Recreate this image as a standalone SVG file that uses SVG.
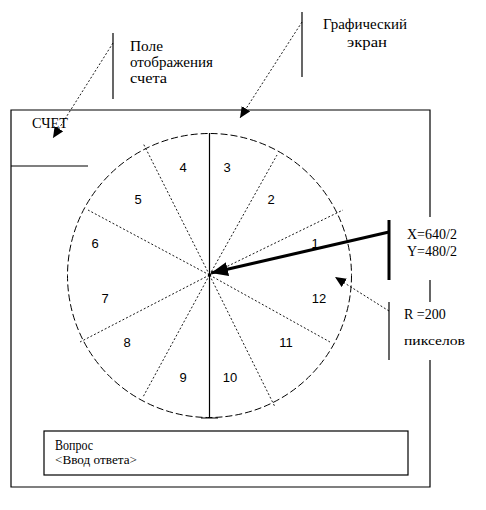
<svg xmlns="http://www.w3.org/2000/svg" width="486" height="510" viewBox="0 0 486 510">
<style>
.ser{font-family:"Liberation Serif","DejaVu Serif","Times New Roman",serif;fill:#000}
.num{font-family:"Liberation Sans",Arial,sans-serif;font-size:13px;fill:#000;text-anchor:middle}
.solid{stroke:#000;stroke-width:1.2;fill:none}
.dot{stroke:#000;stroke-width:0.9;stroke-dasharray:2,2;fill:none}
.circ{stroke:#000;stroke-width:1;stroke-dasharray:7,3;fill:none}
</style>
<defs>
<marker id="ah" markerUnits="userSpaceOnUse" markerWidth="12" markerHeight="10" refX="11" refY="5" orient="auto">
<path d="M0,0 L11,5 L0,10 Z" fill="#000"/>
</marker>
<marker id="ahb" markerUnits="userSpaceOnUse" markerWidth="18" markerHeight="14" refX="17" refY="7" orient="auto">
<path d="M0,0 L17,7 L0,14 Z" fill="#000"/>
</marker>
</defs>
<rect width="486" height="510" fill="#fff"/>

<g id="screen">
<path class="solid" d="M430 217 V110 H11 V487 H430 V360 M430 280 V302"/>
<path class="solid" d="M11 166 H88"/>
</g>

<g id="score">
<text class="ser" x="32" y="128" font-size="14" textLength="36" lengthAdjust="spacingAndGlyphs">СЧЕТ</text>
</g>

<g id="wheel">
<circle class="circ" cx="209.5" cy="275.5" r="142"/>
<path class="solid" d="M209.5 133 V418 M201 418 H218"/>
<path class="dot" d="M209.5 275 L277 155 M209.5 275 L343 210 M209.5 275 L330 342 M209.5 275 L275 407 M209.5 275 L143 143 M209.5 275 L88 210 M209.5 275 L80 342 M209.5 275 L143 397"/>
<circle cx="209.5" cy="275" r="1.5" fill="#000"/>
<text class="num" x="183" y="172">4</text>
<text class="num" x="227" y="172">3</text>
<text class="num" x="138" y="204">5</text>
<text class="num" x="271" y="204">2</text>
<text class="num" x="95" y="248">6</text>
<text class="num" x="315" y="248">1</text>
<text class="num" x="105" y="303">7</text>
<text class="num" x="319" y="303">12</text>
<text class="num" x="127" y="347">8</text>
<text class="num" x="286" y="347">11</text>
<text class="num" x="183" y="382">9</text>
<text class="num" x="230" y="382">10</text>
</g>

<g id="question">
<rect class="solid" x="44" y="431" width="364" height="44"/>
<text class="ser" x="55" y="450" font-size="14" textLength="38" lengthAdjust="spacingAndGlyphs">Вопрос</text>
<text class="ser" x="55" y="464" font-size="12" textLength="82" lengthAdjust="spacingAndGlyphs">&lt;Ввод ответа&gt;</text>
</g>

<g id="label-score">
<path class="solid" d="M113 33 V99"/>
<text class="ser" x="130" y="51" font-size="14" textLength="33" lengthAdjust="spacingAndGlyphs">Поле</text>
<text class="ser" x="130" y="67" font-size="14" textLength="83" lengthAdjust="spacingAndGlyphs">отображения</text>
<text class="ser" x="130" y="83" font-size="14" textLength="37" lengthAdjust="spacingAndGlyphs">счета</text>
</g>

<g id="label-screen">
<path class="solid" d="M302 12 V77"/>
<text class="ser" x="323" y="29" font-size="14" textLength="84" lengthAdjust="spacingAndGlyphs">Графический</text>
<text class="ser" x="347" y="47" font-size="14" textLength="40" lengthAdjust="spacingAndGlyphs">экран</text>
</g>

<g id="label-center">
<path d="M389 220 V280" stroke="#000" stroke-width="3" fill="none"/>
<text class="ser" x="407" y="239" font-size="14">X=640/2</text>
<text class="ser" x="407" y="256" font-size="14">Y=480/2</text>
</g>

<g id="label-radius">
<path class="solid" d="M389 302 V360"/>
<text class="ser" x="404" y="319" font-size="14">R =200</text>
<text class="ser" x="404" y="345" font-size="12" textLength="61" lengthAdjust="spacingAndGlyphs">пикселов</text>
</g>

<g id="connectors">
<path class="dot" d="M113 43 L53 138" marker-end="url(#ah)"/>
<path class="dot" d="M302 22 L240 118" marker-end="url(#ah)"/>
<path class="dot" d="M389 311 L335 277" marker-end="url(#ah)"/>
<path d="M389 232 L211 273" stroke="#000" stroke-width="3" fill="none" marker-end="url(#ahb)"/>
</g>
</svg>
